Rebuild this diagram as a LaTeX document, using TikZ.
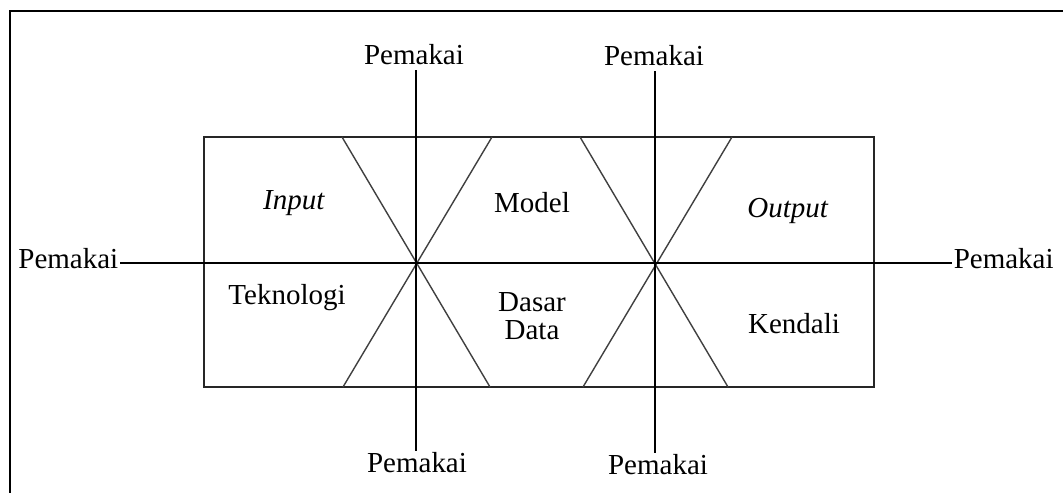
\documentclass[tikz,border=0pt]{standalone}
\usepackage{fontspec}
\setmainfont{Liberation Serif}
\usetikzlibrary{calc}

\tikzset{
  txt/.style={font=\fontsize{16.5}{16}\selectfont, inner sep=0.8pt},
  axis line/.style={line width=1.1pt, color=black},
  cross line/.style={line width=0.8pt, color=black!75},
}

\begin{document}
\begin{tikzpicture}[x=0.02cm, y=-0.02cm]
			%%%%% START %%%%%
			\useasboundingbox (0, 0) rectangle (1063, 493);
			\draw[line width=1.7pt] (10, 520) -- (10, 11) -- (1090, 11);
			
			\coordinate (c1) at (416, 263);
			\coordinate (c2) at (655, 263);
			
			\draw[line width=1pt, color=black!85] (204, 137) rectangle (874, 387);
			
			% diagonals
			\draw[cross line] ($(c1)+(-74,-126)$) -- ($(c1)+(74,124)$);
			\draw[cross line] ($(c1)+(76,-126)$) -- ($(c1)+(-73,124)$);
			\draw[cross line] ($(c2)+(-75,-126)$) -- ($(c2)+(73,124)$);
			\draw[cross line] ($(c2)+(77,-126)$) -- ($(c2)+(-72,124)$);
			
			% pemakai
			\node[txt, anchor=base] (pT1) at (414, 65) {Pemakai};
			\node[txt, anchor=base] (pT2) at (654, 66) {Pemakai};
			\node[txt, anchor=base] (pB1) at (417, 473) {Pemakai};
			\node[txt, anchor=base] (pB2) at (658, 475) {Pemakai};
			\node[txt, anchor=base east] (pL) at (120, 269) {Pemakai};
			\node[txt, anchor=base west] (pR) at (952, 269) {Pemakai};
			
			\draw[axis line] (c1 |- pT1.south) ++(0, 3) -- (c1 |- pB1.north);
			\draw[axis line] (c2 |- pT2.south) ++(0, 3) -- (c2 |- pB2.north);
			\draw[axis line] (pL.east |- c1) -- (pR.west |- c1);
			
			% isi
			\node[txt] (input) at (294, 203) {\textit{Input}};
			\node[txt] (model) at (532, 203) {Model};
			\node[txt] (output) at (788, 211) {\textit{Output}};
			\node[txt] (tekno) at (287, 298) {Teknologi};
			\node[txt, align=center] (dasar) at (532, 316) {Dasar\\Data};
			\node[txt] (kendali) at (794, 324) {Kendali};
			%%%%% END %%%%%
\end{tikzpicture}
\end{document}
